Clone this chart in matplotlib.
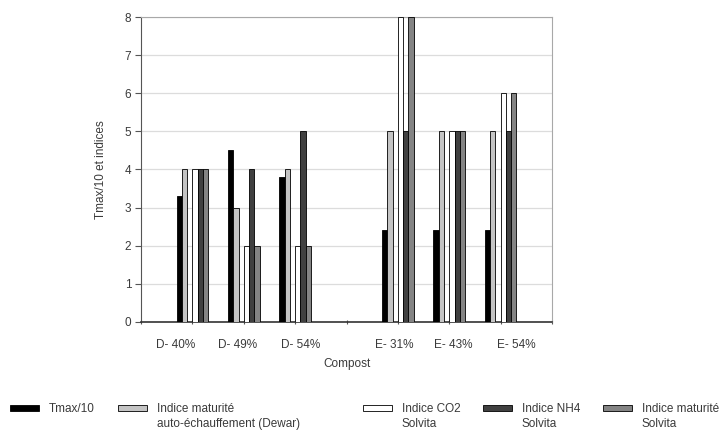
import numpy as np
import matplotlib.pyplot as plt
from matplotlib.patches import Rectangle

plt.rcParams['font.family'] = ['Liberation Sans', 'DejaVu Sans']

# data
composts = ["D- 40%", "D- 49%", "D- 54%", "E- 31%", "E- 43%", "E- 54%"]
group_pos = [1, 2, 3, 5, 6, 7]
tmax10 = [3.3, 4.5, 3.8, 2.4, 2.4, 2.4]
dewar = [4.0, 3.0, 4.0, 5.0, 5.0, 5.0]
co2 = [4.0, 2.0, 2.0, 8.0, 5.0, 6.0]
nh4 = [4.0, 4.0, 5.0, 5.0, 5.0, 5.0]
maturite = [4.0, 2.0, 2.0, 8.0, 5.0, 6.0]

series = [
    ("Tmax/10", tmax10, "#000000"),
    ("Indice maturité\nauto-échauffement (Dewar)", dewar, "#c4c4c4"),
    ("Indice CO2\nSolvita", co2, "#ffffff"),
    ("Indice NH4\nSolvita", nh4, "#404040"),
    ("Indice maturité\nSolvita", maturite, "#848484"),
]
# slot of each series inside a group (slot 2 is left empty, as in the original)
slots = [0, 1, 3, 4, 5]
label_pos = [0.68, 1.87, 3.11, 4.92, 6.07, 7.31]

txt = "#3a3a3a"
fig = plt.figure(figsize=(7.28, 4.36), dpi=100)
ax = fig.add_axes([0.1937, 0.2615, 0.5646, 0.6995])

w = 0.1025
x = np.array(group_pos, dtype=float)
for (name, vals, col), s in zip(series, slots):
    ax.bar(x + (s - 3) * w, vals, width=w, align="edge", color=col,
           edgecolor="#000000", linewidth=0.6, zorder=3)

ax.set_xlim(0, 8)
ax.set_ylim(0, 8)
ax.set_yticks(range(0, 9))
ax.set_xticks(range(0, 9))
ax.set_xticklabels([])
ax.set_xticks(label_pos, minor=True)
ax.set_xticklabels(composts, minor=True)
ax.tick_params(axis="x", which="minor", length=0, pad=12, labelsize=8.5, labelcolor=txt)
ax.tick_params(axis="x", which="major", length=3, direction="inout", color="#555555")
ax.tick_params(axis="y", length=4, color="#555555", labelsize=8.5, labelcolor=txt, pad=3)
ax.yaxis.grid(True, color="#dcdcdc", linewidth=0.9, zorder=0)
ax.set_axisbelow(True)
for side in ["top", "right"]:
    ax.spines[side].set_color("#a8a8a8")
    ax.spines[side].set_linewidth(0.8)
ax.spines["left"].set_color("#555555")
ax.spines["bottom"].set_color("#333333")
ax.spines["bottom"].set_linewidth(1.2)

ax.set_xlabel("Compost", fontsize=8.5, color=txt, labelpad=5)
ax.set_ylabel("Tmax/10 et indices", fontsize=8.5, color=txt, labelpad=13)

# legend drawn by hand so the swatch lines up with the first text line
leg_x = [10, 118, 363, 483, 603]
for (name, vals, col), lx in zip(series, leg_x):
    fig.add_artist(Rectangle((lx / 728, 1 - 411 / 436), 29 / 728, 6 / 436,
                             transform=fig.transFigure, facecolor=col,
                             edgecolor="#000000", linewidth=0.6))
    fig.text((lx + 39) / 728, 1 - 403 / 436, name, fontsize=8.5, color=txt,
             va="top", ha="left", linespacing=1.35)

fig.savefig("out.png", dpi=100)
